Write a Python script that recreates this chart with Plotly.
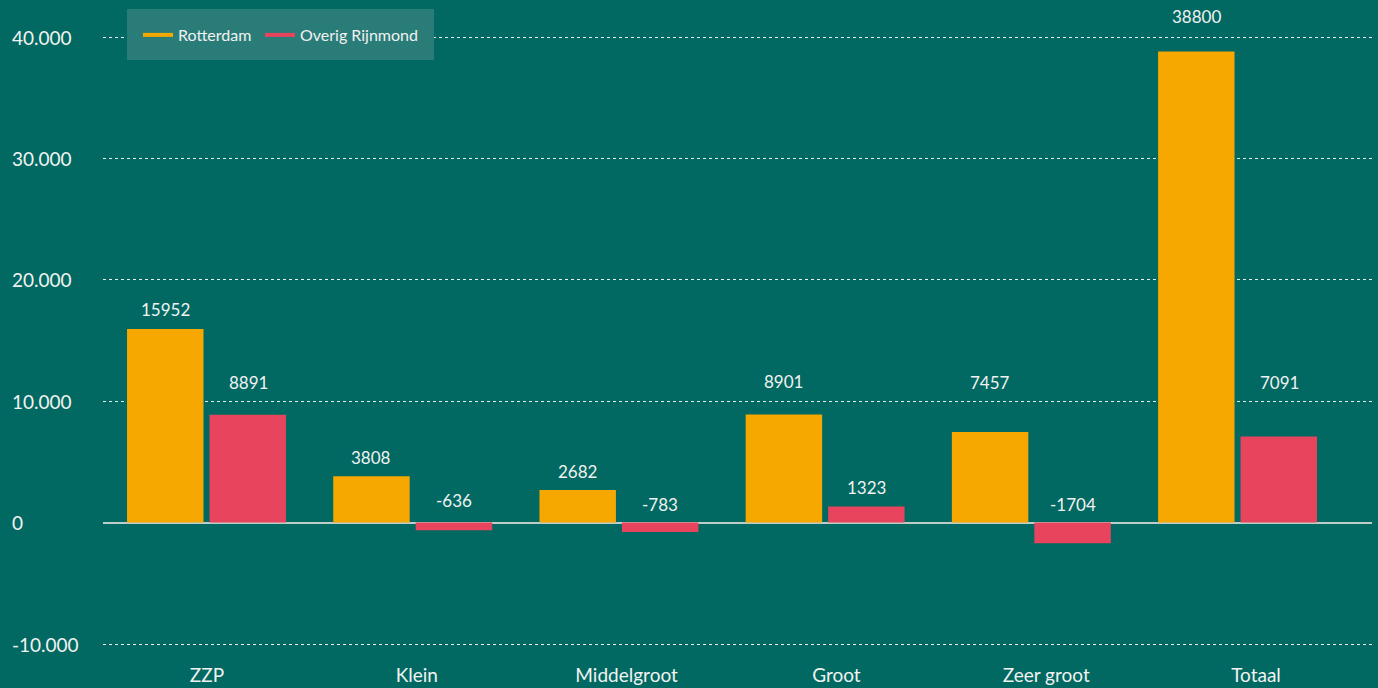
import plotly.graph_objects as go

categories = ["ZZP", "Klein", "Middelgroot", "Groot", "Zeer groot", "Totaal"]
rotterdam = [15952, 3808, 2682, 8901, 7457, 38800]
overig = [8891, -636, -783, 1323, -1704, 7091]
series_names = ["Rotterdam", "Overig Rijnmond"]
y_tickvals = [40000, 30000, 20000, 10000, 0, -10000]
y_ticktext = ["40.000", "30.000", "20.000", "10.000", "0", "-10.000"]

# label lift above anchor (px) - styling
lift_rotterdam = [19, 19, 19, 33, 50, 35]
lift_overig = [32, 22, 18, 19, 18, 54]

BG = "#016961"
ORANGE = "#F6A800"
RED = "#E8445E"
LEG_BG = "#2A7C78"
FONT = "Lato, 'Open Sans', sans-serif"

fig = go.Figure()
fig.add_trace(go.Bar(x=categories, y=rotterdam, name=series_names[0], marker_color=ORANGE,
                     marker_line_width=0, showlegend=False, hoverinfo="x+y"))
fig.add_trace(go.Bar(x=categories, y=overig, name=series_names[1], marker_color=RED,
                     marker_line_width=0, showlegend=False, hoverinfo="x+y"))
# legend entries as lines, each in its own legend
fig.add_trace(go.Scatter(x=[None], y=[None], mode="lines", name=series_names[0],
                         line=dict(color=ORANGE, width=4), legend="legend"))
fig.add_trace(go.Scatter(x=[None], y=[None], mode="lines", name=series_names[1],
                         line=dict(color=RED, width=4), legend="legend2"))
# invisible trace for category label axis
fig.add_trace(go.Scatter(x=list(range(len(categories))), y=[None] * len(categories),
                         xaxis="x2", mode="markers", showlegend=False, hoverinfo="skip"))

annotations = []
for vals, lifts, shift in ((rotterdam, lift_rotterdam, -41.5), (overig, lift_overig, 41.5)):
    for c, v, l in zip(categories, vals, lifts):
        annotations.append(dict(x=c, y=max(v, 0), xref="x", yref="y", text=str(v),
                                showarrow=False, xshift=shift, yshift=l, yanchor="middle",
                                font=dict(size=17, color="#F2F2F2", family=FONT)))
for tv, tt in zip(y_tickvals, y_ticktext):
    annotations.append(dict(x=-0.0733, y=tv, xref="paper", yref="y", text=tt,
                            showarrow=False, xanchor="left", yanchor="middle",
                            font=dict(size=19, color="#F2F2F2", family=FONT)))

W, H = 1378, 688
ML, MR, MT, MB = 103, 6, 34, 41
pw, ph = W - ML - MR, H - MT - MB


def px_x(p):
    return (p - ML) / pw


def px_y(p):
    return 1 - (p - MT) / ph


leg_common = dict(orientation="h", xanchor="left", yanchor="middle",
                  bgcolor="rgba(0,0,0,0)", borderwidth=0,
                  font=dict(size=16, color="#F2F2F2", family=FONT), itemwidth=30)

pad_units = 247  # 3px padding so edge gridlines are drawn
fig.update_layout(
    width=W, height=H,
    paper_bgcolor=BG, plot_bgcolor=BG,
    margin=dict(l=ML, r=MR, t=MT, b=MB),
    barmode="group", bargap=0.2, bargroupgap=0.073,
    font=dict(family=FONT, color="#F2F2F2"),
    xaxis=dict(type="category", range=[-0.502, 5.652], showticklabels=False,
               showgrid=False, zeroline=False, showline=False, ticks=""),
    xaxis2=dict(overlaying="x", anchor="y", side="bottom", range=[-0.4957, 5.553],
                tickvals=list(range(len(categories))), ticktext=categories,
                showgrid=False, zeroline=False, showline=False, ticks="",
                ticklabelstandoff=15, automargin=False,
                tickfont=dict(size=19, color="#F2F2F2", family=FONT)),
    yaxis=dict(range=[-10000 - pad_units, 40000 + pad_units], tickvals=y_tickvals,
               showticklabels=False, automargin=False,
               showgrid=True, gridcolor="rgba(255,255,255,0.9)", gridwidth=1, griddash="dot",
               zeroline=True, zerolinecolor="#BFCDC9", zerolinewidth=2, showline=False),
    legend=dict(x=px_x(138), y=px_y(35), **leg_common),
    legend2=dict(x=px_x(260), y=px_y(35), **leg_common),
    shapes=[dict(type="rect", xref="paper", yref="paper",
                 x0=px_x(127), x1=px_x(434), y0=px_y(60), y1=px_y(9),
                 fillcolor=LEG_BG, line=dict(width=0), layer="above")],
    annotations=annotations,
    showlegend=True,
)

fig.write_html("out.html", post_script="document.body.style.margin='0';",
               config={"displayModeBar": False})
